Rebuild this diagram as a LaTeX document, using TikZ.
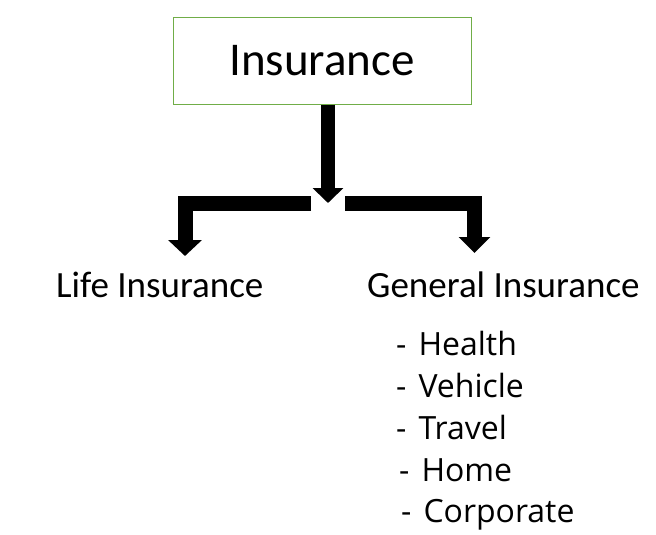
\documentclass[tikz,border=0pt]{standalone}
\usepackage{fontspec}
\setmainfont{Carlito}
\newfontfamily\listfont{Open Sans}
\usetikzlibrary{arrows.meta}
\usetikzlibrary{positioning}
\definecolor{boxgreen}{rgb}{0.44,0.68,0.28}

\begin{document}
\begin{tikzpicture}[x=1pt, y=-1pt,
    topbox/.style={draw=boxgreen, line width=1pt, minimum width=298pt, minimum height=86pt, inner sep=0pt},
    heading/.style={anchor=base west, inner sep=0pt, font=\fontsize{37}{40}\selectfont},
    item/.style={anchor=base west, inner sep=0pt, font=\listfont\fontsize{32}{36}\selectfont},
    blockarrow/.style={line width=15pt, line join=miter, -{Triangle[width=31pt,length=16pt]}}]
  \useasboundingbox (0, 0) rectangle (656, 535);
  \node[topbox, font=\fontsize{47}{50}\selectfont] (ins) at (322, 61) {Insurance};
  \node[heading] (life) at (56, 297) {Life Insurance};
  \node[heading] (general) at (367, 297) {General Insurance};
  \foreach \name/\x/\y [count=\i] in {Health/396/355, Vehicle/396/397, Travel/396/439, Home/399/481, Corporate/401/522} {
    \node[item] (item\i) at (\x, \y) {-\hspace{12pt}\name};
  }
  \coordinate (insTip) at (328, 203);
  \coordinate (splitL) at (311, 203.5);
  \coordinate (splitR) at (345, 203.5);
  \coordinate (lifeTip) at (185, 256);
  \coordinate (generalTip) at (474.5, 253);
  \draw[blockarrow, line width=14pt, -{Triangle[width=30pt,length=15pt]}] (ins.south -| insTip) -- (insTip);
  \draw[blockarrow, -{Triangle[width=33pt,length=16pt]}] (splitL) -| (lifeTip);
  \draw[blockarrow] (splitR) -| (generalTip);
\end{tikzpicture}
\end{document}
